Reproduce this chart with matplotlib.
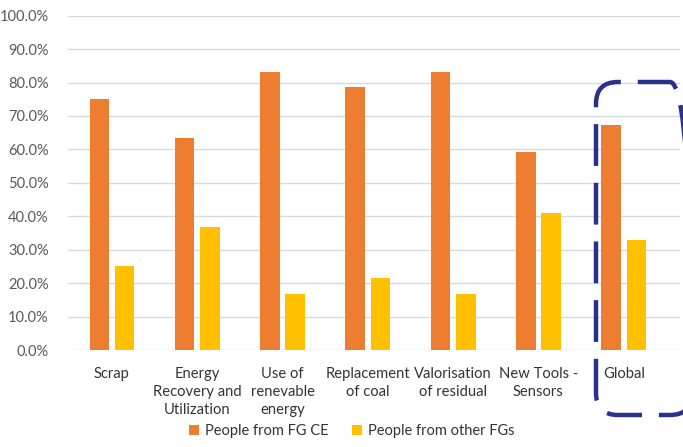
import matplotlib.pyplot as plt
from matplotlib.patches import FancyBboxPatch
from matplotlib.ticker import FuncFormatter
import numpy as np

plt.rcParams['font.family'] = ['Lato', 'DejaVu Sans']

categories = ["Scrap", "Energy\nRecovery and\nUtilization", "Use of\nrenevable\nenergy",
              "Replacement\nof coal", "Valorisation\nof residual", "New Tools -\nSensors", "Global"]
fg_ce = [75.0, 63.3, 83.3, 78.6, 83.3, 59.1, 67.2]
other_fgs = [25.0, 36.7, 16.7, 21.4, 16.7, 40.9, 32.8]
series_names = ["People from FG CE", "People from other FGs"]

orange = "#ED7D31"
yellow = "#FFC000"

fig = plt.figure(figsize=(6.83, 4.47), dpi=100)
ax = fig.add_axes([68 / 683, 97 / 447, 612 / 683, 334.3 / 447])

x = np.arange(len(categories))
w = 0.23
ax.bar(x - 0.148, fg_ce, w, color=orange, label=series_names[0], zorder=3)
ax.bar(x + 0.148, other_fgs, w, color=yellow, label=series_names[1], zorder=3)

ax.set_ylim(0, 100)
ax.set_xlim(-0.516, 6.66)
ax.set_yticks(np.arange(0, 101, 10))
ax.yaxis.set_major_formatter(FuncFormatter(lambda v, p: f"{v:.1f}%"))
ax.grid(axis='y', color='#D9D9D9', linewidth=1, zorder=0)
for s in ax.spines.values():
    s.set_visible(False)
ax.tick_params(axis='both', length=0, labelsize=10.5)
ax.tick_params(axis='y', colors='#595959', pad=14)
ax.set_xticks(x)
ax.set_xticklabels(categories, color='#333333', linespacing=1.4, fontsize=10.6)
ax.tick_params(axis='x', pad=12)

leg = fig.legend(loc='center', bbox_to_anchor=(352 / 683, 1 - 431 / 447), ncol=2,
                 frameon=False, fontsize=10.5, handlelength=0.7, handleheight=0.7,
                 handletextpad=0.4, columnspacing=1.6)
for t in leg.get_texts():
    t.set_color('#333333')

# dashed highlight around the last group
box = FancyBboxPatch((596, 447 - 415), 96, 333, boxstyle="round,pad=0,rounding_size=22",
                     transform=None, fill=False, edgecolor='#2B2F8E', linewidth=3.2,
                     linestyle=(4, (9.4, 3.8)), clip_on=False, zorder=5)
fig.patches.append(box)

fig.savefig("out.png", dpi=100)
